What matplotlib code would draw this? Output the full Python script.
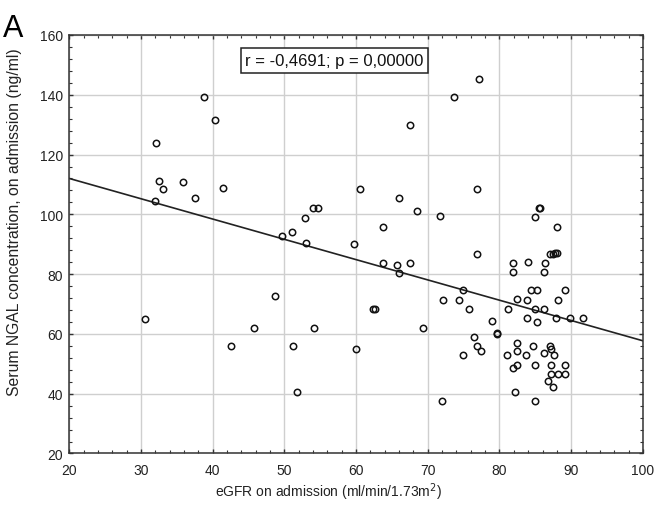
import matplotlib
matplotlib.use("Agg")
import matplotlib.pyplot as plt
from matplotlib.ticker import MultipleLocator

plt.rcParams['font.family'] = ['Liberation Sans', 'DejaVu Sans']

# eGFR on admission (ml/min/1.73m2)
egfr = [30.6, 31.95, 32.05, 32.5, 33.1, 35.85, 37.5, 38.8, 40.35, 41.4,
        42.6, 45.7, 48.7, 49.6, 51.0, 51.2, 51.8, 52.85, 53.0, 54.0,
        54.75, 54.15, 59.7, 60.0, 60.6, 62.3, 62.6, 63.7, 63.8, 65.7,
        66.0, 66.0, 67.45, 67.5, 68.5, 69.35, 71.7, 72.0, 72.1, 73.6,
        74.3, 74.9, 74.9, 75.7, 76.5, 76.8, 76.8, 76.8, 77.1, 77.4,
        79.0, 79.6, 79.6, 81.05, 81.2, 81.9, 81.9, 81.9, 82.1, 82.4,
        82.5, 82.5, 82.5, 83.7, 83.8, 83.8, 84.0, 84.4, 84.7, 84.9,
        84.9, 85.0, 85.0, 85.2, 85.3, 85.5, 85.7, 86.2, 86.35, 86.2,
        86.2, 86.75, 87.0, 87.5, 87.8, 88.0, 87.0, 87.2, 87.2, 87.2,
        87.5, 87.6, 87.9, 88.06, 88.2, 88.2, 89.1, 89.1, 89.1, 89.9,
        91.7]
# Serum NGAL concentration on admission (ng/ml)
ngal = [65.1, 104.4, 123.9, 111.2, 108.6, 110.7, 105.4, 139.3, 131.7, 108.9,
        55.9, 61.9, 72.8, 92.8, 94.2, 55.9, 40.6, 98.8, 90.3, 102.2,
        102.2, 62.0, 90.0, 54.9, 108.6, 68.3, 68.3, 83.7, 95.9, 83.0,
        80.4, 105.4, 129.9, 83.7, 101.2, 62.0, 99.4, 37.4, 71.3, 139.3,
        71.3, 74.6, 52.8, 68.3, 59.1, 108.6, 86.8, 56.0, 145.2, 54.2,
        64.4, 60.2, 60.0, 52.8, 68.3, 83.7, 80.6, 48.7, 40.6, 71.8,
        57.1, 54.2, 49.7, 52.8, 71.4, 65.2, 84.0, 74.6, 56.0, 49.7,
        37.4, 99.0, 68.3, 74.6, 64.1, 102.2, 102.2, 80.6, 83.7, 68.3,
        53.6, 44.1, 86.8, 86.8, 87.1, 87.1, 56.0, 55.0, 49.7, 46.6,
        42.3, 52.8, 65.2, 95.9, 71.4, 46.6, 74.6, 49.7, 46.6, 65.2,
        65.2]

# Regression line (ends at x = 20 and x = 100)
fit_x = [20, 100]
fit_y = [112.0, 57.7]

stat_text = "r = -0,4691; p = 0,00000"
xlabel = "eGFR on admission (ml/min/1.73m$^{2}$)"
ylabel = "Serum NGAL concentration, on admission (ng/ml)"
panel = "A"

fig = plt.figure(figsize=(6.54, 5.06), dpi=100)
ax = fig.add_axes([0.106, 0.1018, 0.877, 0.8271])

ax.set_xlim(20, 100)
ax.set_ylim(20, 160)
ax.xaxis.set_major_locator(MultipleLocator(10))
ax.xaxis.set_minor_locator(MultipleLocator(2))
ax.yaxis.set_major_locator(MultipleLocator(20))
ax.yaxis.set_minor_locator(MultipleLocator(4))

ax.grid(True, which='major', color='#cfcfcf', linewidth=1.0, zorder=0)
ax.set_axisbelow(True)

ax.plot(fit_x, fit_y, color='#222222', linewidth=1.2, zorder=2)
ax.plot(egfr, ngal, linestyle='none', marker='o', markersize=4.6,
        markerfacecolor='none', markeredgecolor='#111111',
        markeredgewidth=1.1, zorder=3)

for s in ax.spines.values():
    s.set_color('#333333')
    s.set_linewidth(1.1)

ax.tick_params(which='both', direction='in', top=True, right=True,
               color='#333333')
ax.tick_params(which='major', length=3, width=1)
ax.tick_params(which='minor', length=2, width=0.8)
ax.tick_params(axis='y', which='major', labelsize=10, pad=4.5, labelcolor='#222222')
ax.tick_params(axis='x', which='major', labelsize=10, pad=7, labelcolor='#222222')

ax.set_xlabel(xlabel, fontsize=10, color='#222222')
ax.xaxis.set_label_coords(0.452, -0.089)
ax.xaxis.label.set_verticalalignment('center')

ax.set_ylabel(ylabel, fontsize=11.3, color='#222222')
ax.yaxis.set_label_coords(-0.0964, 0.5556)
ax.yaxis.label.set_verticalalignment('center')

ax.text(57.0, 151.5, stat_text, fontsize=12, ha='center', va='center',
        color='#111111', zorder=4,
        bbox=dict(boxstyle='square,pad=0.28', facecolor='white',
                  edgecolor='#222222', linewidth=1.1))

fig.text(3 / 654, 1 - 37 / 506, panel, fontsize=22, ha='left', va='baseline')

fig.savefig("out.png", dpi=100)
